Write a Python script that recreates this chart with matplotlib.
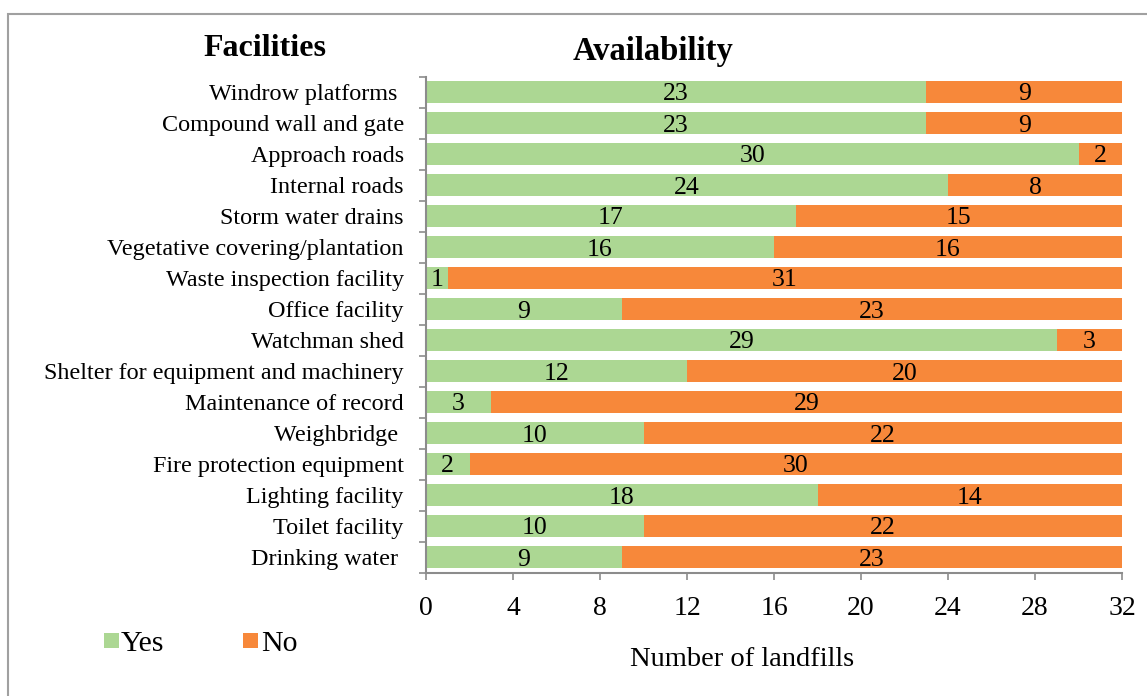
import matplotlib
matplotlib.use("Agg")
import matplotlib.pyplot as plt
from matplotlib.patches import Rectangle
import numpy as np

plt.rcParams['font.family'] = ['Liberation Serif', 'DejaVu Serif']

# facilities, top to bottom as in the chart
facilities = ["Windrow platforms ", "Compound wall and gate", "Approach roads", "Internal roads",
              "Storm water drains", "Vegetative covering/plantation", "Waste inspection facility",
              "Office facility", "Watchman shed", "Shelter for equipment and machinery",
              "Maintenance of record", "Weighbridge ", "Fire protection equipment",
              "Lighting facility", "Toilet facility", "Drinking water "]
yes_counts = [23, 23, 30, 24, 17, 16, 1, 9, 29, 12, 3, 10, 2, 18, 10, 9]
no_counts = [9, 9, 2, 8, 15, 16, 31, 23, 3, 20, 29, 22, 30, 14, 22, 23]
xticks = [0, 4, 8, 12, 16, 20, 24, 28, 32]

green = '#acd793'
orange = '#f7883a'
gray = '#8c8c8c'

fig = plt.figure(figsize=(11.47, 6.96), dpi=100)
ax = fig.add_axes([426/1147, 1 - 572.5/696, (1122-426)/1147, (572.5-76.5)/696])

y = np.arange(len(facilities))
yes = np.array(yes_counts)
no = np.array(no_counts)
ax.barh(y, yes, height=0.74, color=green, edgecolor='none')
ax.barh(y, no, left=yes, height=0.74, color=orange, edgecolor='none')

# value labels in the middle of each segment
for i in range(len(facilities)):
    ax.text(yes[i] / 2, y[i], str(yes[i]), ha='center', va='center_baseline', fontsize=18.5)
    ax.text(yes[i] + no[i] / 2, y[i], str(no[i]), ha='center', va='center_baseline', fontsize=18.5)

ax.set_ylim(len(facilities) - 0.5, -0.5)
ax.set_xlim(0, 32)
ax.set_yticks(y)
ax.set_yticklabels(facilities, fontsize=17.4, va='center_baseline')
ax.set_yticks(np.arange(-0.5, len(facilities)), minor=True)
ax.tick_params(axis='y', which='major', length=0, pad=16)
ax.tick_params(axis='y', which='minor', length=5, color=gray, width=1.2)
ax.set_xticks(xticks)
ax.set_xticklabels([str(t) for t in xticks], fontsize=20)
ax.tick_params(axis='x', length=5, color=gray, width=1.2, pad=12)

for s in ['top', 'right']:
    ax.spines[s].set_visible(False)
for s in ['left', 'bottom']:
    ax.spines[s].set_color(gray)
    ax.spines[s].set_linewidth(1.5)

# titles, axis label and legend placed like the original
fig.text(265/1147, 1 - 45/696, "Facilities", ha='center', va='center_baseline', fontsize=23, fontweight='bold')
fig.text(653/1147, 1 - 48/696, "Availability", ha='center', va='center_baseline', fontsize=23.5, fontweight='bold')
fig.text(742/1147, 1 - 657/696, "Number of landfills", ha='center', va='center_baseline', fontsize=20.5)

fig.add_artist(Rectangle((104/1147, 1 - 648/696), 15/1147, 15/696, transform=fig.transFigure,
                         facecolor=green, edgecolor='none'))
fig.text(121/1147, 1 - 641/696, "Yes", ha='left', va='center_baseline', fontsize=21.5)
fig.add_artist(Rectangle((243/1147, 1 - 648/696), 15/1147, 15/696, transform=fig.transFigure,
                         facecolor=orange, edgecolor='none'))
fig.text(261/1147, 1 - 641/696, "No", ha='left', va='center_baseline', fontsize=21.5)

# chart frame (only left and top edges show in the crop)
fig.add_artist(Rectangle((8/1147, -0.1), 1.2, 1 - 14/696 + 0.1, transform=fig.transFigure,
                         facecolor='none', edgecolor='#a0a0a0', linewidth=1.5))

fig.savefig("out.png", dpi=100)
